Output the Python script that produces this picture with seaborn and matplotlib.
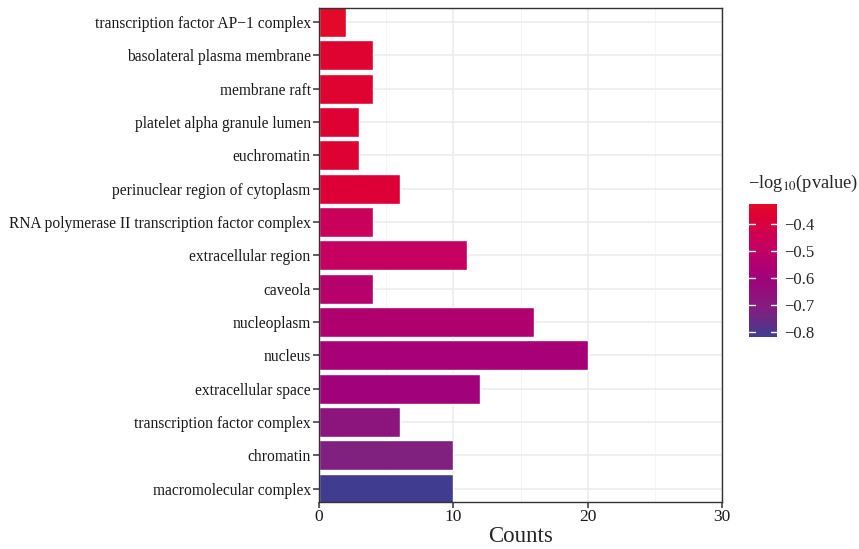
import numpy as np
import pandas as pd
import matplotlib
matplotlib.use("Agg")
import matplotlib.pyplot as plt
import seaborn as sns
from matplotlib.colors import LinearSegmentedColormap, Normalize
from matplotlib.cm import ScalarMappable
from matplotlib.ticker import MultipleLocator

# GO cellular component terms, top to bottom
terms = [
    "transcription factor AP\u22121 complex",
    "basolateral plasma membrane",
    "membrane raft",
    "platelet alpha granule lumen",
    "euchromatin",
    "perinuclear region of cytoplasm",
    "RNA polymerase II transcription factor complex",
    "extracellular region",
    "caveola",
    "nucleoplasm",
    "nucleus",
    "extracellular space",
    "transcription factor complex",
    "chromatin",
    "macromolecular complex",
]
counts = [2, 4, 4, 3, 3, 6, 4, 11, 4, 16, 20, 12, 6, 10, 10]
neg_log_p = [-0.33, -0.36, -0.36, -0.37, -0.37, -0.38, -0.47, -0.48,
             -0.53, -0.55, -0.58, -0.60, -0.68, -0.72, -0.82]
cbar_ticks = [-0.4, -0.5, -0.6, -0.7, -0.8]

df = pd.DataFrame({"term": terms, "count": counts, "p": neg_log_p})

sns.set_style("white")
plt.rcParams["font.family"] = ["Liberation Serif", "DejaVu Serif"]
plt.rcParams["mathtext.fontset"] = "stix"

cmap = LinearSegmentedColormap.from_list(
    "bluered",
    [(0.0, "#403D90"), (0.2, "#80207F"), (0.45, "#A2007A"),
     (0.7, "#C8005E"), (0.9, "#DD0035"), (1.0, "#E20A28")])
norm = Normalize(vmin=-0.82, vmax=-0.325)
palette = {t: cmap(norm(v)) for t, v in zip(terms, neg_log_p)}

fig = plt.figure(figsize=(8.59, 5.49), dpi=100)
ax = fig.add_axes([0.3714, 0.0856, 0.4691, 0.8998])

sns.barplot(data=df, x="count", y="term", hue="term", palette=palette,
            order=terms, legend=False, width=0.9, edgecolor="white",
            linewidth=1.0, saturation=1, ax=ax)

ax.set_xlim(0, 30)
ax.set_ylim(len(terms) - 0.6, -0.42)
ax.xaxis.set_major_locator(MultipleLocator(10))
ax.xaxis.set_minor_locator(MultipleLocator(5))
ax.grid(True, which="major", color="#EBEBEB", linewidth=1.1, zorder=0)
ax.grid(True, which="minor", axis="x", color="#F2F2F2", linewidth=0.6, zorder=0)
ax.set_axisbelow(True)
for s in ax.spines.values():
    s.set_color("#333333")
    s.set_linewidth(1.0)

ax.tick_params(axis="both", which="major", length=4, width=1.1,
               color="#333333", direction="out",
               labelcolor="#1A1A1A", pad=2, bottom=True, left=True)
ax.tick_params(axis="y", labelsize=11.2)
ax.tick_params(axis="x", labelsize=12.5, pad=1)
ax.tick_params(axis="x", which="minor", length=0)
ax.set_xlabel("Counts", fontsize=16.5, labelpad=1)
ax.set_ylabel("")

# colour bar
cax = fig.add_axes([749 / 859, 1 - 337 / 549, 28 / 859, 133 / 549])
sm = ScalarMappable(norm=norm, cmap=cmap)
cb = fig.colorbar(sm, cax=cax, ticks=cbar_ticks)
cb.outline.set_visible(False)
cb.ax.tick_params(length=0, labelsize=12, pad=5)
cb.ax.set_yticklabels([f"\u2212{abs(t):.1f}" for t in cbar_ticks])
for t in cbar_ticks:
    cax.plot([0, 0.22], [t, t], color="white", lw=1, transform=cax.get_yaxis_transform())
    cax.plot([0.78, 1], [t, t], color="white", lw=1, transform=cax.get_yaxis_transform())
fig.text(748 / 859, 1 - 183 / 549, "\u2212log$_{10}$(pvalue)", fontsize=13.2,
         va="center", ha="left")

fig.savefig("out.png", dpi=100)
